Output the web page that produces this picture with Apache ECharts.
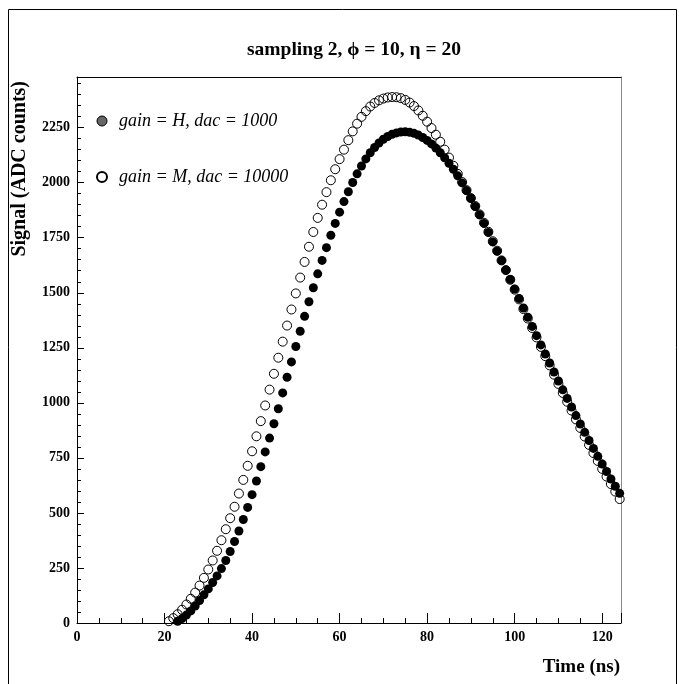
<!DOCTYPE html>
<html><head><meta charset="utf-8">
<script src="https://cdn.jsdelivr.net/npm/echarts@6/dist/echarts.min.js"></script>
<style>html,body{margin:0;padding:0;background:#fff}#c{width:679px;height:684px}</style>
</head><body><div id="c"></div>
<script>
// ---- data ----
const timesH = [23,24,25,26,27,28,29,30,31,32,33,34,35,36,37,38,39,40,41,42,43,44,45,46,47,48,49,50,51,52,53,54,55,56,57,58,59,60,61,62,63,64,65,66,67,68,69,70,71,72,73,74,75,76,77,78,79,80,81,82,83,84,85,86,87,88,89,90,91,92,93,94,95,96,97,98,99,100,101,102,103,104,105,106,107,108,109,110,111,112,113,114,115,116,117,118,119,120,121,122,123,124];
const signalH = [8,20,36,55,77,102,128,155,184,214,247,284,325,370,418,470,525,583,645,710,777,840,905,973,1045,1116,1186,1256,1325,1393,1459,1523,1586,1647,1705,1761,1815,1866,1914,1959,2001,2040,2076,2108,2136,2160,2180,2197,2210,2220,2226,2230,2231,2229,2224,2216,2205,2192,2176,2157,2136,2113,2088,2061,2031,1999,1964,1929,1892,1854,1815,1774,1731,1689,1646,1603,1560,1517,1474,1431,1389,1347,1305,1263,1222,1181,1140,1099,1059,1020,981,942,904,866,829,793,757,722,688,654,621,589];
const timesM = [21,22,23,24,25,26,27,28,29,30,31,32,33,34,35,36,37,38,39,40,41,42,43,44,45,46,47,48,49,50,51,52,53,54,55,56,57,58,59,60,61,62,63,64,65,66,67,68,69,70,71,72,73,74,75,76,77,78,79,80,81,82,83,84,85,86,87,88,89,90,91,92,93,94,95,96,97,98,99,100,101,102,103,104,105,106,107,108,109,110,111,112,113,114,115,116,117,118,119,120,121,122,123,124];
const signalM = [8,22,40,60,84,110,138,170,205,243,284,328,376,426,476,528,588,650,714,780,848,917,988,1060,1132,1205,1278,1351,1424,1497,1569,1640,1709,1776,1840,1900,1957,2011,2061,2107,2150,2193,2233,2268,2299,2325,2346,2362,2374,2382,2387,2389,2388,2384,2376,2364,2348,2328,2304,2277,2248,2218,2186,2150,2114,2077,2040,2003,1966,1930,1894,1856,1818,1777,1734,1691,1647,1603,1559,1514,1470,1426,1383,1340,1297,1254,1212,1170,1128,1086,1045,1005,965,925,886,847,809,772,736,700,665,631,597,563];
const legendH = 'gain = H, dac = 1000';
const legendM = 'gain = M, dac = 10000';
const titleText = 'sampling 2, \u03d5 = 10, \u03b7 = 20';
const xTitle = 'Time (ns)';
const yTitle = 'Signal (ADC counts)';
const xMin = 0, xMax = 124.3, xStep = 20;
const yMin = 0, yMax = 2480, yStep = 250;

// ---- chart ----
const serif = 'Liberation Serif, Times New Roman, serif';
const chart = echarts.init(document.getElementById('c'), null, {renderer: 'canvas'});
const baseAxis = {
  type: 'value', splitLine: {show: false},
  axisLine: {show: true, onZero: false, lineStyle: {color: '#000', width: 1}}
};
chart.setOption({
  animation: false,
  backgroundColor: '#fff',
  title: {
    text: titleText, left: 349, top: 35, textAlign: 'center',
    textStyle: {fontFamily: serif, fontWeight: 'bold', fontSize: 19.5, color: '#000'}
  },
  grid: {left: 77, top: 77, right: 58, bottom: 61, containLabel: false},
  legend: {
    orient: 'vertical', left: 91, top: 106, itemWidth: 24, itemHeight: 10, itemGap: 36,
    selectedMode: false,
    textStyle: {fontFamily: serif, fontStyle: 'italic', fontSize: 18, color: '#000', lineHeight: 20},
    data: [
      {name: legendH, icon: 'circle', itemStyle: {color: '#666', borderColor: '#000', borderWidth: 1, opacity: 1}},
      {name: legendM, icon: 'circle'}
    ]
  },
  xAxis: [
    Object.assign({}, baseAxis, {
      min: xMin, max: xMax, interval: xStep, position: 'bottom',
      axisTick: {show: true, inside: true, length: 10, lineStyle: {color: '#000'}},
      minorTick: {show: true, splitNumber: 4, length: 5, lineStyle: {color: '#000'}},
      axisLabel: {margin: 7, fontFamily: serif, fontWeight: 'bold', fontSize: 14, color: '#000',
        formatter: v => (Math.abs(v % xStep) < 1e-9 ? String(v) : '')}
    }),
    Object.assign({}, baseAxis, {
      min: xMin, max: xMax, position: 'top',
      axisTick: {show: false}, axisLabel: {show: false}
    })
  ],
  yAxis: [
    Object.assign({}, baseAxis, {
      min: yMin, max: yMax, interval: yStep, position: 'left',
      axisTick: {show: true, inside: true, length: 7, lineStyle: {color: '#000'}},
      minorTick: {show: true, splitNumber: 5, length: 4, lineStyle: {color: '#000'}},
      axisLabel: {margin: 7, fontFamily: serif, fontWeight: 'bold', fontSize: 14, color: '#000',
        formatter: v => (Math.abs(v % yStep) < 1e-9 ? String(v) : '')}
    }),
    Object.assign({}, baseAxis, {
      min: yMin, max: yMax, position: 'right',
      axisLine: {show: true, onZero: false, lineStyle: {color: '#8a8a8a', width: 1}},
      axisTick: {show: false}, axisLabel: {show: false}
    })
  ],
  series: [
    {
      name: legendM, type: 'scatter', xAxisIndex: 0, yAxisIndex: 0, z: 2,
      symbol: 'circle', symbolSize: 9, silent: true,
      itemStyle: {color: 'rgba(255,255,255,0)', borderColor: '#000', borderWidth: 1, opacity: 1},
      data: timesM.map((t, i) => [t, signalM[i]])
    },
    {
      name: legendH, type: 'scatter', xAxisIndex: 0, yAxisIndex: 0, z: 3,
      symbol: 'circle', symbolSize: 9, silent: true,
      itemStyle: {color: '#000', opacity: 1},
      data: timesH.map((t, i) => [t, signalH[i]])
    }
  ],
  graphic: [
    {type: 'rect', silent: true, shape: {x: 8.5, y: 9.5, width: 668, height: 680},
     style: {fill: null, stroke: '#000', lineWidth: 1}},
    {type: 'text', silent: true, x: 620, y: 667,
     style: {text: xTitle, fontFamily: serif, fontWeight: 'bold', fontSize: 19, fill: '#000',
       textAlign: 'right', textVerticalAlign: 'middle'}},
    {type: 'text', silent: true, x: 20, y: 81, rotation: Math.PI / 2,
     style: {text: yTitle, fontFamily: serif, fontWeight: 'bold', fontSize: 20, fill: '#000',
       textAlign: 'right', textVerticalAlign: 'middle'}}
  ]
});
</script>
</body></html>
